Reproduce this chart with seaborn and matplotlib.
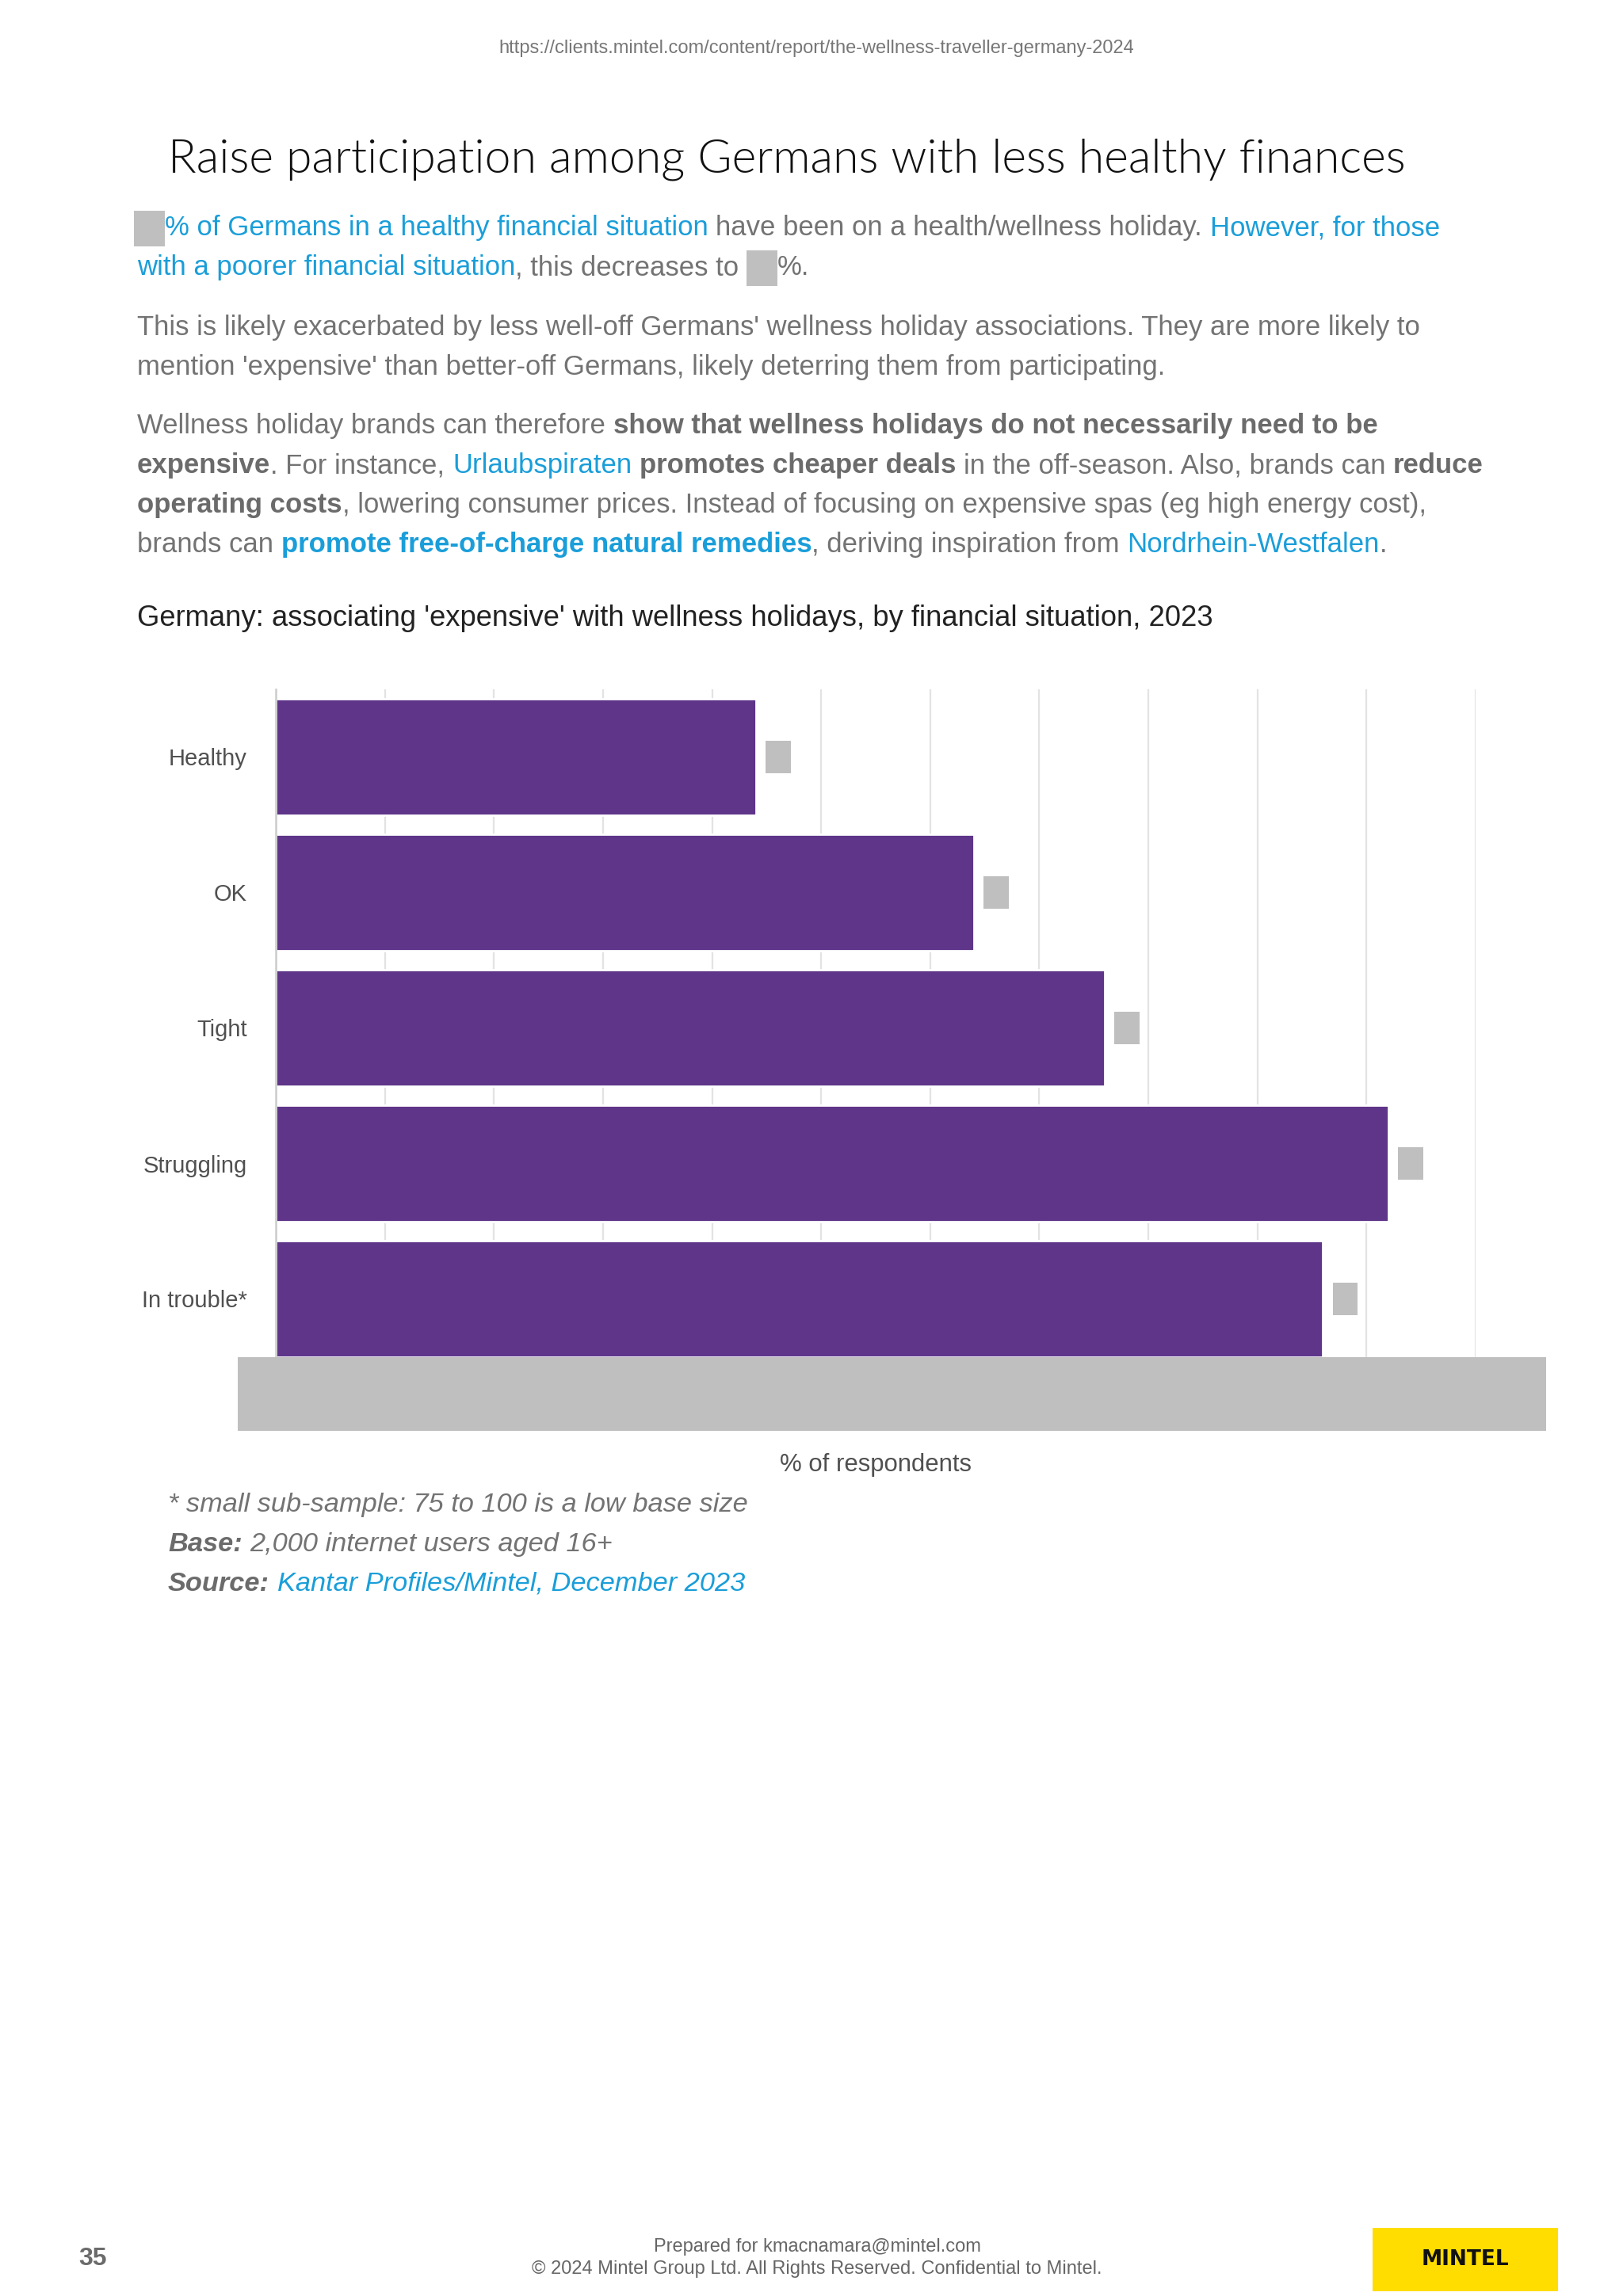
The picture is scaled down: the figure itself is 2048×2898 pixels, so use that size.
import matplotlib
matplotlib.use('Agg')
import matplotlib.pyplot as plt
import seaborn as sns
import pandas as pd
from matplotlib.patches import Rectangle

# data (value labels are redacted in the source)
situations = ['Healthy', 'OK', 'Tight', 'Struggling', 'In trouble*']
expensive_pct = [22, 32, 38, 51, 48]
x_ticks = [0, 5, 10, 15, 20, 25, 30, 35, 40, 45, 50, 55]

PURPLE = '#5E3589'
BLUE = '#1A9ED9'
GREY = '#737373'
BOLDGREY = '#6B6B6B'
REDACT = '#BFBFBF'

sns.set_theme(style='white')
plt.rcParams['font.family'] = ['Liberation Sans', 'DejaVu Sans']

W, H, DPI = 2048, 2898, 200
fig = plt.figure(figsize=(W / DPI, H / DPI), dpi=DPI)
fig.patch.set_facecolor('white')


def fx(px):
    return px / W


def fy(py):
    return 1 - py / H


# ---- chart ----
ax = fig.add_axes([fx(348), fy(1725), (1862 - 348) / W, (1725 - 870) / H])
df = pd.DataFrame({'situation': situations, 'pct': expensive_pct})
sns.barplot(data=df, y='situation', x='pct', orient='h', color=PURPLE,
            saturation=1, width=0.86, ax=ax)
ax.set_xlim(0, 55)
ax.set_ylim(4.5, -0.5)
ax.set_xticks(x_ticks)
ax.xaxis.grid(True, color='#E3E3E3', lw=0.8)
ax.set_axisbelow(True)
ax.set_xlabel('')
ax.set_ylabel('')
for s in ['top', 'right', 'bottom']:
    ax.spines[s].set_visible(False)
ax.spines['left'].set_color('#CCCCCC')
ax.spines['left'].set_linewidth(0.9)
ax.tick_params(axis='y', length=0, pad=13, labelsize=10.5, labelcolor='#505050')
ax.tick_params(axis='x', length=0, labelsize=10, labelcolor='#505050')

# redacted value labels next to each bar
for i, v in enumerate(expensive_pct):
    ax.add_patch(Rectangle((v + 0.45, i - 0.117), 1.15, 0.234,
                           color=REDACT, lw=0, zorder=5))

# redaction band over the x tick labels
fig.patches.append(Rectangle((fx(300), fy(1806)), (1951 - 300) / W, (1806 - 1713) / H,
                             transform=fig.transFigure, color=REDACT, lw=0, zorder=10))

fig.text(fx(1105), fy(1857), '% of respondents', fontsize=11.2, color='#505050',
         ha='center', va='baseline')

# ---- page text ----
renderer = fig.canvas.get_renderer()


def text_width(s, size, weight, style):
    t = fig.text(0, 0, s, fontsize=size, fontweight=weight, fontstyle=style)
    w = t.get_window_extent(renderer).width
    t.remove()
    return w


def rich(x, y, parts, size=12.5, style='normal'):
    cur = x
    for p in parts:
        if p[0] is None:
            w = p[1]
            fig.patches.append(Rectangle((fx(cur), fy(y + 14)), w / W, 45 / H,
                                         transform=fig.transFigure, color=REDACT, lw=0))
            cur += w
            continue
        txt, color, weight = p
        sp = text_width('x x', size, weight, style) - text_width('xx', size, weight, style)
        if txt.startswith(' '):
            cur += sp
        core = txt.strip()
        t = fig.text(fx(cur), fy(y), core, fontsize=size, color=color,
                     fontweight=weight, fontstyle=style, va='baseline')
        cur = t.get_window_extent(renderer).x1
        if txt.endswith(' '):
            cur += sp


fig.text(fx(1030), fy(67), 'https://clients.mintel.com/content/report/the-wellness-traveller-germany-2024',
         fontsize=8.5, color='#777777', ha='center', va='baseline')

fig.text(fx(212), fy(218), 'Raise participation among Germans with less healthy finances',
         fontsize=21.2, color='#111111', family=['Lato', 'DejaVu Sans'],
         fontweight=300, va='baseline')

L = 173
rich(169, 297, [(None, 39), ('% of Germans in a healthy financial situation ', BLUE, 'normal'),
                ('have been on a health/wellness holiday. ', GREY, 'normal'),
                ('However, for those', BLUE, 'normal')])
rich(L, 347, [('with a poorer financial situation', BLUE, 'normal'),
              (', this decreases to ', GREY, 'normal'), (None, 39), ('%.', GREY, 'normal')])
rich(L, 423, [("This is likely exacerbated by less well-off Germans' wellness holiday associations. They are more likely to", GREY, 'normal')])
rich(L, 473, [("mention 'expensive' than better-off Germans, likely deterring them from participating.", GREY, 'normal')])
rich(L, 547, [('Wellness holiday brands can therefore ', GREY, 'normal'),
              ('show that wellness holidays do not necessarily need to be', BOLDGREY, 'bold')])
rich(L, 597, [('expensive', BOLDGREY, 'bold'), ('. For instance, ', GREY, 'normal'),
              ('Urlaubspiraten ', BLUE, 'normal'), ('promotes cheaper deals ', BOLDGREY, 'bold'),
              ('in the off-season. Also, brands can ', GREY, 'normal'), ('reduce', BOLDGREY, 'bold')])
rich(L, 647, [('operating costs', BOLDGREY, 'bold'),
              (', lowering consumer prices. Instead of focusing on expensive spas (eg high energy cost),', GREY, 'normal')])
rich(L, 697, [('brands can ', GREY, 'normal'), ('promote free-of-charge natural remedies', BLUE, 'bold'),
              (', deriving inspiration from ', GREY, 'normal'), ('Nordrhein-Westfalen', BLUE, 'normal'),
              ('.', GREY, 'normal')])

fig.text(fx(L), fy(790), "Germany: associating 'expensive' with wellness holidays, by financial situation, 2023",
         fontsize=13.1, color='#222222', va='baseline')

# footnotes
rich(212, 1908, [('* small sub-sample: 75 to 100 is a low base size', GREY, 'normal')], size=12.4, style='italic')
rich(212, 1958, [('Base:', BOLDGREY, 'bold'), (' 2,000 internet users aged 16+', GREY, 'normal')], size=12.4, style='italic')
rich(212, 2008, [('Source:', BOLDGREY, 'bold'), (' Kantar Profiles/Mintel, December 2023', BLUE, 'normal')], size=12.4, style='italic')

# footer
fig.text(fx(117), fy(2851), '35', fontsize=11.5, fontweight='bold', color='#6B6B6B',
         ha='center', va='center')
fig.text(fx(1031), fy(2836), 'Prepared for kmacnamara@mintel.com', fontsize=8.5,
         color='#666666', ha='center', va='center')
fig.text(fx(1031), fy(2864), '\u00a9 2024 Mintel Group Ltd. All Rights Reserved. Confidential to Mintel.',
         fontsize=8.5, color='#666666', ha='center', va='center')
fig.patches.append(Rectangle((fx(1732), fy(2892)), (1966 - 1732) / W, 80 / H,
                             transform=fig.transFigure, color='#FFDD00', lw=0))
fig.text(fx(1849), fy(2852), 'MINTEL', fontsize=9.5, fontweight='bold', color='#111111',
         ha='center', va='center', family=['DejaVu Sans'])

fig.savefig('out.png', dpi=DPI, facecolor='white')
